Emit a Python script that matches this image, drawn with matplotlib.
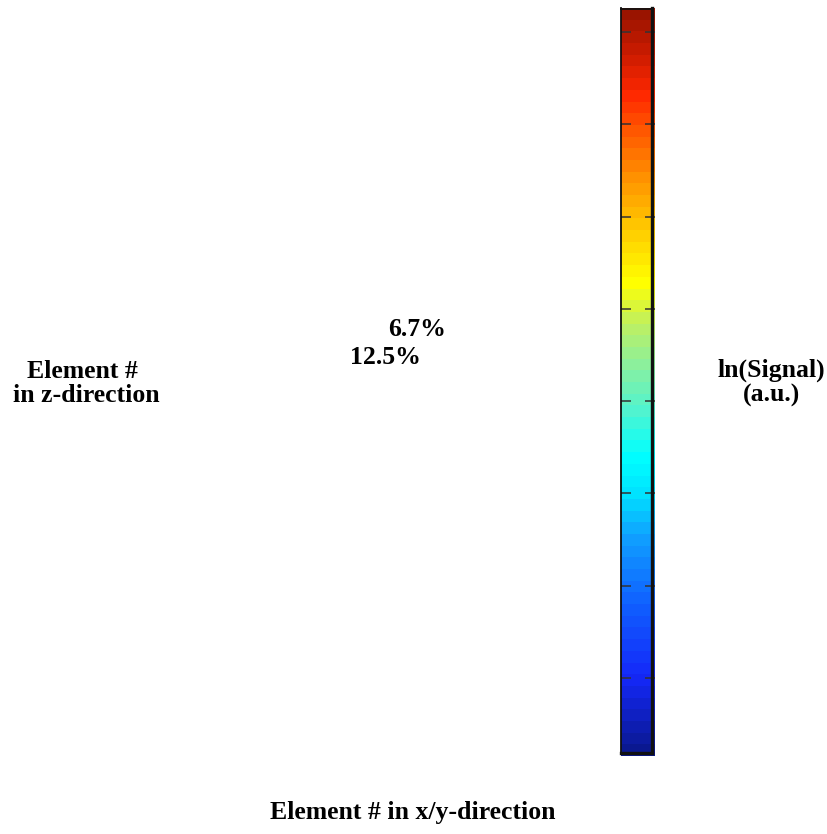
import numpy as np
import matplotlib
matplotlib.use("Agg")
import matplotlib.pyplot as plt
from matplotlib import cm, colors
from matplotlib.lines import Line2D

plt.rcParams['font.family'] = ['Liberation Serif', 'DejaVu Serif']
plt.rcParams['font.weight'] = 'bold'

# colour scale for ln(signal), arbitrary units
signal_min = -8.848
signal_max = -0.739
n_levels = 64
tick_values = [-8, -7, -6, -5, -4, -3, -2, -1]

# anchor colours of the signal palette (position 0 = low, 1 = high)
palette_pos = [0.0, 0.10, 0.20, 0.29, 0.35, 0.40, 0.46, 0.52, 0.58, 0.635,
               0.70, 0.77, 0.84, 0.89, 0.94, 1.0]
palette_hex = ['#0a1890', '#1428f8', '#1060ff', '#10a0ff', '#00e4ff',
               '#00ffff', '#50f4d0', '#88f0a0', '#c0f060', '#ffff00',
               '#ffd000', '#ff9800', '#ff5800', '#ff2800', '#d01c00',
               '#9a1400']

# percentage annotations
annot_labels = ["6.7%", "12.5%"]

W, H = 828, 834
fig = plt.figure(figsize=(W / 100, H / 100), dpi=100)

cmap = colors.LinearSegmentedColormap.from_list(
    'signal', list(zip(palette_pos, palette_hex)), N=n_levels)
norm = colors.Normalize(vmin=signal_min, vmax=signal_max)

cax = fig.add_axes([621 / W, 1 - 756 / H, 34 / W, 748 / H])
cb = fig.colorbar(cm.ScalarMappable(norm=norm, cmap=cmap), cax=cax)
cb.set_ticks(tick_values)
cb.ax.tick_params(which='both', direction='in', length=7, width=1.1,
                  color='#333333', left=True, right=True,
                  labelleft=False, labelright=False, pad=0)
cb.ax.minorticks_off()
cb.outline.set_visible(False)

# frame of the colour bar, heavier on the right and bottom edges
def px_line(x0, y0, x1, y1, lw):
    fig.add_artist(Line2D([x0 / W, x1 / W], [1 - y0 / H, 1 - y1 / H],
                          transform=fig.transFigure, color='#111111',
                          linewidth=lw, solid_capstyle='projecting'))

px_line(621.5, 8, 621.5, 753, 1.3)
px_line(621.5, 8.5, 652, 8.5, 1.3)
px_line(652.5, 8, 652.5, 753, 2.4)
px_line(621.5, 752.5, 652.5, 752.5, 2.4)

fs = 18.5
def label(x, y, s):
    fig.text(x / W, 1 - y / H, s, ha='center', va='center',
             fontsize=fs, fontweight='bold')

label(417, 329, annot_labels[0])
label(385, 357, annot_labels[1])
label(82, 371, "Element #")
label(86, 396, "in z-direction")
label(771, 370, "ln(Signal)")
label(772, 395, "(a.u.)")
label(413, 812, "Element # in x/y-direction")

fig.savefig("out.png", dpi=100)
